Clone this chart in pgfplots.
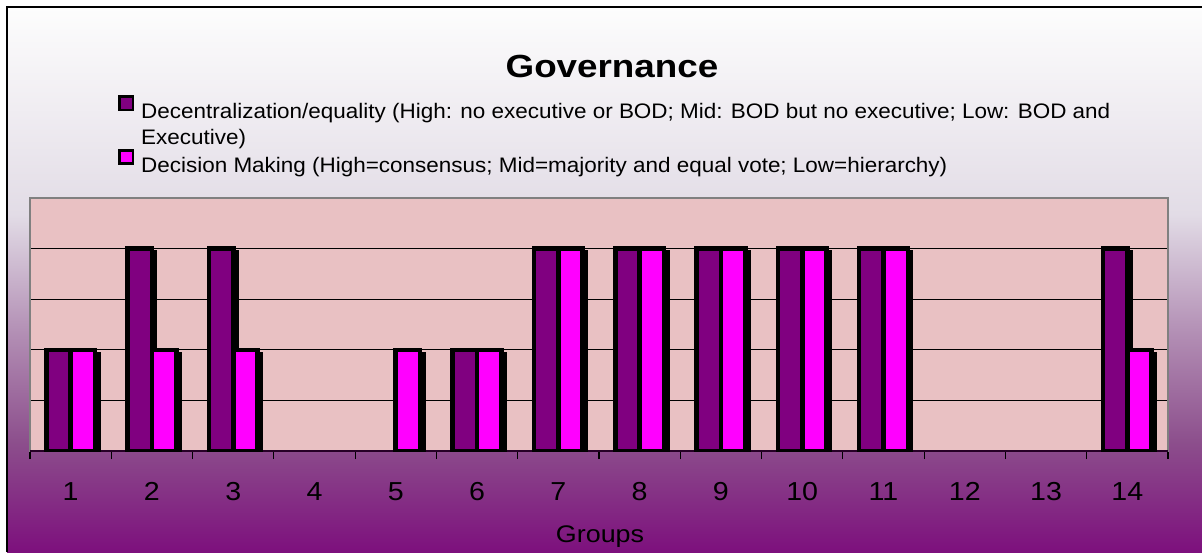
\documentclass[border=0pt]{standalone}
\usepackage{pgfplots}
\pgfplotsset{compat=1.18}
\usepackage{fontspec}
\setmainfont{Liberation Sans}
\newfontfamily\legfont{Liberation Sans}[FakeStretch=1.07]
\newfontfamily\titfont{Liberation Sans}[FakeStretch=1.15]
\newfontfamily\tickfont{Liberation Sans}[FakeStretch=1.1]
\newfontfamily\labfont{Liberation Sans}[FakeStretch=1.12]
\makeatletter
\tikzset{nopre/.code={\let\tikz@preactions\pgfutil@empty}}
\makeatother
\definecolor{dpurple}{RGB}{128,0,128}
\definecolor{mag}{RGB}{255,0,255}
\definecolor{plotbg}{RGB}{233,193,195}
\definecolor{bgA}{RGB}{125,16,125}
\definecolor{bgB}{RGB}{140,78,140}
\definecolor{bgC}{RGB}{178,142,180}
\definecolor{bgD}{RGB}{226,220,230}
\definecolor{bgE}{RGB}{253,253,253}
\pgfdeclareverticalshading{chartbg}{100bp}{%
  color(0bp)=(bgA);
  color(25bp)=(bgA);
  color(35bp)=(bgB);
  color(45bp)=(bgC);
  color(56bp)=(bgD);
  color(75bp)=(bgE);
  color(100bp)=(bgE)}
\pgfplotstableread{
x  v
1  2
2  4
3  4
6  2
7  4
8  4
9  4
10 4
11 4
14 4
}\decen
\pgfplotstableread{
x  v
1  2
2  2
3  2
5  2
6  2
7  4
8  4
9  4
10 4
11 4
14 2
}\decis
\begin{document}
\begin{tikzpicture}
\useasboundingbox (0,0) rectangle (601pt,276pt);
\fill[white] (0,0) rectangle (601pt,276pt);
\shade[shading=chartbg] (3.5pt,0) rectangle (601pt,272.5pt);
\draw[black, line width=0.8pt] (3.5pt,0) -- (3.5pt,272.5pt) -- (601pt,272.5pt);
\begin{axis}[
  at={(15pt,50.5pt)}, anchor=south west,
  scale only axis, width=569pt, height=126.5pt,
  xmin=0.5, xmax=14.5, ymin=0, ymax=5,
  axis background/.style={fill=plotbg},
  axis line style={draw=gray, line width=0.6pt},
  ybar=0pt, bar width=12.2pt,
  xtick={1,...,14},
  xticklabels={1,2,3,4,5,6,7,8,9,10,11,12,13,14},
  minor xtick={0.5,1.5,...,14.5},
  xtick pos=bottom, tick align=outside,
  major tick length=0pt, minor tick length=4pt,
  minor tick style={black, line width=0.6pt},
  ytick={1,2,3,4}, yticklabels={},
  ymajorgrids, major grid style={black, line width=0.5pt},
  extra y ticks={0}, extra y tick labels={},
  extra y tick style={grid=major, major grid style={black!70!dpurple, line width=0.8pt}},
  xticklabel style={font=\tickfont\fontsize{13}{15}\selectfont, inner sep=0pt, yshift=-15.5pt},
  xlabel={Groups},
  xlabel style={at={(axis description cs:0.5009,-0.360)}, anchor=base, font=\labfont\fontsize{12}{14}\selectfont},
  title={Governance},
  title style={at={(axis description cs:0.5114,1.4285)}, anchor=base, font=\titfont\bfseries\fontsize{16}{19}\selectfont},
  legend style={at={(axis description cs:0.0771,1.4071)}, anchor=north west, draw=none, fill=none,
    font=\legfont\fontsize{10.5}{13}\selectfont, cells={anchor=west}, inner sep=0pt, row sep=0.5pt,
    nodes={inner sep=1pt, text height=8pt, text depth=0.5pt}},
  legend cell align=left,
  every axis plot/.append style={draw=black, line width=2.3pt,
    preaction={fill=black, draw=black, transform canvas={xshift=1.6pt, yshift=-2pt}}},
]
\addplot[fill=dpurple, legend image code/.code={\draw[nopre, fill=dpurple, draw=black, line width=1.3pt] (0.65pt,0.65pt) rectangle (7.35pt,7.35pt);}] table[x=x, y=v] {\decen};
\addlegendentry{\hspace{2.5pt}Decentralization/equality (High: no executive or BOD; Mid: BOD but no executive; Low: BOD and}
\addlegendimage{empty legend}
\addlegendentry[text height=10pt]{\hspace{2.5pt}Executive)}
\addplot[fill=mag, legend image code/.code={\draw[nopre, fill=mag, draw=black, line width=1.3pt] (0.65pt,0.65pt) rectangle (7.35pt,7.35pt);}] table[x=x, y=v] {\decis};
\addlegendentry{\hspace{2.5pt}Decision Making (High=consensus; Mid=majority and equal vote; Low=hierarchy)}
\end{axis}
\end{tikzpicture}
\end{document}
